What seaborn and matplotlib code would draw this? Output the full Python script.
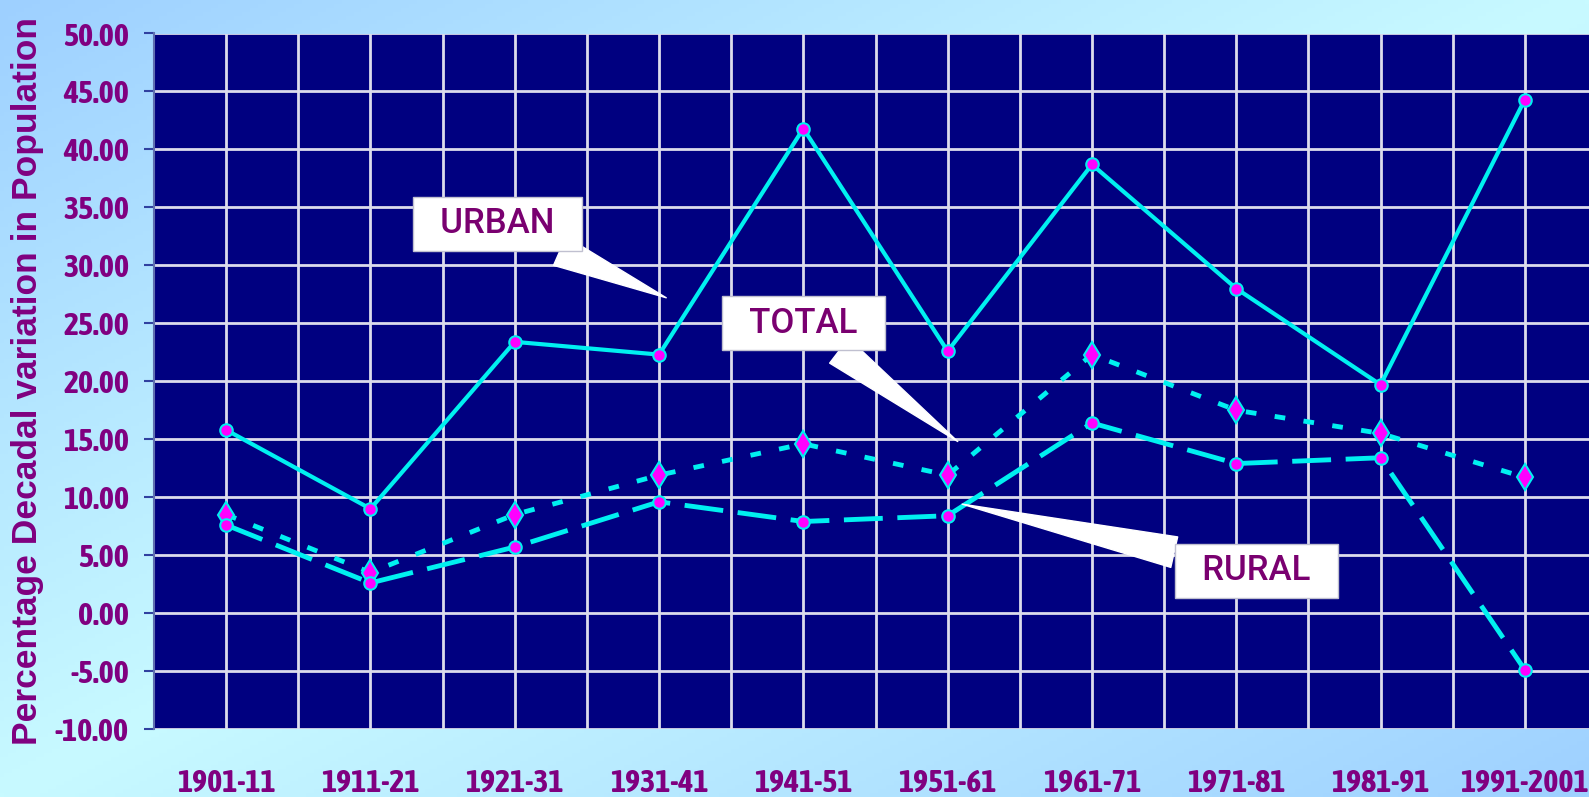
import numpy as np
import pandas as pd
import seaborn as sns
import matplotlib.pyplot as plt
from matplotlib import font_manager as fm

# decadal periods and % decadal variation
periods = ["1901-11", "1911-21", "1921-31", "1931-41", "1941-51",
           "1951-61", "1961-71", "1971-81", "1981-91", "1991-2001"]
urban = [15.8, 9.0, 23.4, 22.3, 41.8, 22.6, 38.7, 28.0, 19.7, 44.3]
total = [8.5, 3.5, 8.5, 11.9, 14.6, 11.9, 22.3, 17.5, 15.5, 11.7]
rural = [7.6, 2.6, 5.7, 9.6, 7.9, 8.4, 16.4, 12.9, 13.4, -4.9]
yticks = np.arange(-10, 51, 5)

sns.set_theme(style="white")
plt.rcParams["font.family"] = ["Liberation Sans", "DejaVu Sans"]

# look for a condensed bold face for the tick labels (Excel used Arial Narrow)
narrow = None
for f in fm.fontManager.ttflist:
    if ("Narrow" in f.name or "Condensed" in f.name) and f.weight in (600, 700, "bold"):
        narrow = f.name
        break
tick_family = [narrow, "Liberation Sans"] if narrow else ["Liberation Sans"]
tick_size = 23 if narrow else 19.5

purple = "#800080"
cyan = "#00F0F0"
magenta = "#FF00FF"

fig = plt.figure(figsize=(15.89, 7.97), dpi=100)

# gradient background
bg = fig.add_axes([0, 0, 1, 1], zorder=0)
gx, gy = np.meshgrid(np.linspace(0, 1, 400), np.linspace(0, 1, 200))
t = np.abs((gx + gy) / 2 - 0.5) * 2
c_blue = np.array([158, 208, 255]) / 255
c_cyan = np.array([200, 250, 255]) / 255
img = c_cyan[None, None, :] * (1 - t[..., None]) + c_blue[None, None, :] * t[..., None]
bg.imshow(img, aspect="auto", extent=[0, 1, 0, 1], origin="upper")
bg.axis("off")

ax = fig.add_axes([154 / 1589, 1 - 729 / 797, (1597 - 154) / 1589, (729 - 33.5) / 797], zorder=1)
ax.set_facecolor("#000080")

x = np.arange(len(periods))
sns.lineplot(x=x, y=urban, ax=ax, color=cyan, lw=3, marker="o", markersize=9,
             mfc=magenta, mec=cyan, mew=1.5, sort=False, estimator=None, zorder=3)
sns.lineplot(x=x, y=total, ax=ax, color=cyan, lw=3.5, linestyle=(0, (2.2, 3.8)),
             marker="d", markersize=13, mfc=magenta, mec=cyan, mew=1.5,
             sort=False, estimator=None, zorder=3)
sns.lineplot(x=x, y=rural, ax=ax, color=cyan, lw=3.5, linestyle=(0, (8, 3)),
             marker="o", markersize=9, mfc=magenta, mec=cyan, mew=1.5,
             sort=False, estimator=None, zorder=3)

ax.set_xlim(-0.5, len(periods) - 0.5)
ax.set_ylim(-10, 50)
ax.set_xticks(x)
ax.set_xticks(x[:-1] + 0.5, minor=True)
ax.set_xticklabels(periods)
ax.set_yticks(yticks)
ax.set_yticklabels([f"{v:.2f}" for v in yticks])
ax.grid(True, which="both", color="#DCDCEC", lw=2)
ax.set_axisbelow(True)

for lab in ax.get_xticklabels() + ax.get_yticklabels():
    lab.set_fontfamily(tick_family)
    lab.set_fontweight("bold")
    lab.set_color(purple)
    lab.set_fontsize(tick_size)
ax.tick_params(axis="x", which="both", length=0, pad=28)
ax.tick_params(axis="y", length=7, width=1.5, color="#3040A0", pad=11, left=True)

for s in ["top", "right", "bottom"]:
    ax.spines[s].set_visible(False)
ax.spines["left"].set_color("#6070B0")
ax.spines["left"].set_linewidth(1.5)

ax.set_ylabel("Percentage Decadal variation in Population", fontsize=25.5,
              fontweight="bold", color=purple)
ax.yaxis.set_label_coords(-0.076, 0.5)

# callouts
box = dict(boxstyle="square,pad=0.3", fc="white", ec="#C0C0D0", lw=1)
arrow = dict(arrowstyle="wedge,tail_width=0.9", fc="white", ec="white",
             shrinkA=0, shrinkB=0)
callouts = [("URBAN", (3.05, 27.2), (1.88, 33.6)),
            ("TOTAL", (5.07, 14.8), (4.0, 25.0)),
            ("RURAL", (5.1, 9.4), (7.14, 3.65))]
for label, tip, pos in callouts:
    ax.annotate(f"  {label}  ", xy=tip, xytext=pos, ha="center", va="center",
                fontsize=25, color="#7A0070", family=["Roboto", "DejaVu Sans"],
                fontweight="medium", bbox=box, arrowprops=arrow, zorder=4)

fig.savefig("out.png", dpi=100)
